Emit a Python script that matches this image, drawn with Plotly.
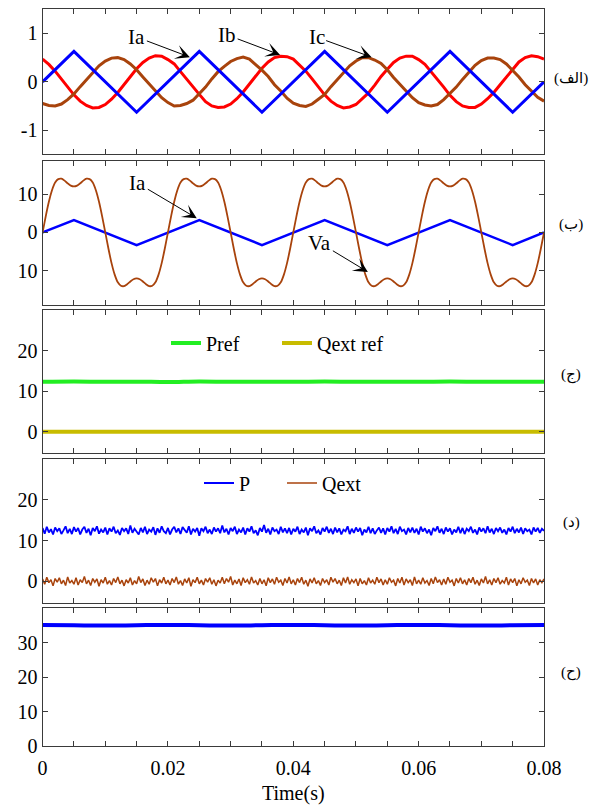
import numpy as np
import plotly.graph_objects as go

# ---------------- data ----------------
t_tri = [0, 0.005, 0.015, 0.025, 0.035, 0.045, 0.055, 0.065, 0.075, 0.08]
ia1 = [0, 0.63, -0.63, 0.63, -0.63, 0.63, -0.63, 0.63, -0.63, 0]
ia2 = [0, 3.2, -3.3, 3.2, -3.3, 3.2, -3.3, 3.2, -3.3, 0]

t_ms = np.round(np.arange(0, 81) * 0.001, 4)
ib = [0.47, 0.36, 0.22, 0.06, -0.11, -0.27, -0.40, -0.49, -0.54, -0.53, -0.47, -0.36, -0.22, -0.06, 0.11, 0.27, 0.40, 0.49, 0.54, 0.53,
      0.46, 0.37, 0.21, 0.05, -0.12, -0.26, -0.41, -0.50, -0.53, -0.52, -0.46, -0.35, -0.21, -0.05, 0.12, 0.28, 0.41, 0.50, 0.53, 0.52,
      0.47, 0.35, 0.22, 0.06, -0.10, -0.27, -0.40, -0.49, -0.54, -0.52, -0.47, -0.36, -0.23, -0.07, 0.11, 0.26, 0.40, 0.49, 0.53, 0.53,
      0.46, 0.36, 0.21, 0.05, -0.11, -0.28, -0.41, -0.50, -0.53, -0.53, -0.46, -0.35, -0.22, -0.06, 0.10, 0.27, 0.41, 0.50, 0.54, 0.52,
      0.47]
ic = [-0.45, -0.49, -0.50, -0.46, -0.37, -0.25, -0.10, 0.05, 0.20, 0.33, 0.43, 0.49, 0.50, 0.46, 0.37, 0.25, 0.10, -0.05, -0.20, -0.33,
      -0.43, -0.50, -0.49, -0.45, -0.38, -0.24, -0.11, 0.06, 0.21, 0.32, 0.42, 0.48, 0.51, 0.47, 0.36, 0.24, 0.11, -0.06, -0.19, -0.34,
      -0.44, -0.49, -0.51, -0.46, -0.36, -0.26, -0.10, 0.04, 0.20, 0.33, 0.43, 0.50, 0.50, 0.45, 0.38, 0.25, 0.09, -0.05, -0.21, -0.33,
      -0.43, -0.48, -0.50, -0.47, -0.37, -0.25, -0.11, 0.05, 0.19, 0.34, 0.44, 0.49, 0.49, 0.46, 0.37, 0.24, 0.10, -0.06, -0.20, -0.32,
      -0.40]

t_half = np.round(np.arange(0, 161) * 0.0005, 5)
va = [0, 4.2, 8.0, 11.0, 13.0, 13.9, 14.0, 13.5, 12.8, 12.2, 12.0, 12.2, 12.8, 13.5, 14.0, 13.9, 13.0, 11.0, 8.0, 4.2,
      0, -4.2, -8.0, -11.0, -13.0, -13.9, -14.0, -13.5, -12.8, -12.2, -12.0, -12.2, -12.8, -13.5, -14.0, -13.9, -13.0, -11.0, -8.0, -4.2,
      0, 4.2, 8.0, 11.0, 13.0, 13.9, 14.0, 13.5, 12.8, 12.2, 12.0, 12.2, 12.8, 13.5, 14.0, 13.9, 13.0, 11.0, 8.0, 4.2,
      0, -4.2, -8.0, -11.0, -13.0, -13.9, -14.0, -13.5, -12.8, -12.2, -12.0, -12.2, -12.8, -13.5, -14.0, -13.9, -13.0, -11.0, -8.0, -4.2,
      0, 4.2, 8.0, 11.0, 13.0, 13.9, 14.0, 13.5, 12.8, 12.2, 12.0, 12.2, 12.8, 13.5, 14.0, 13.9, 13.0, 11.0, 8.0, 4.2,
      0, -4.2, -8.0, -11.0, -13.0, -13.9, -14.0, -13.5, -12.8, -12.2, -12.0, -12.2, -12.8, -13.5, -14.0, -13.9, -13.0, -11.0, -8.0, -4.2,
      0, 4.2, 8.0, 11.0, 13.0, 13.9, 14.0, 13.5, 12.8, 12.2, 12.0, 12.2, 12.8, 13.5, 14.0, 13.9, 13.0, 11.0, 8.0, 4.2,
      0, -4.2, -8.0, -11.0, -13.0, -13.9, -14.0, -13.5, -12.8, -12.2, -12.0, -12.2, -12.8, -13.5, -14.0, -13.9, -13.0, -11.0, -8.0, -4.2,
      0]

t_ref = np.round(np.arange(0, 17) * 0.005, 4)
pref = [12.3, 12.4, 12.3, 12.35, 12.25, 12.4, 12.3, 12.35, 12.3, 12.4, 12.3, 12.35, 12.3, 12.4, 12.3, 12.35, 12.3]
qref = [0, 0, 0, 0, 0, 0, 0, 0, 0, 0, 0, 0, 0, 0, 0, 0, 0]
vdc = [35.1, 35.0, 34.9, 35.0, 35.1, 35.0, 34.9, 35.0, 35.1, 35.0, 34.9, 35.0, 35.1, 35.0, 34.9, 35.0, 35.1]

t_fine = np.round(np.arange(0, 241) / 3000.0, 6)
p_meas = [13.1, 11.7, 13.4, 12.0, 12.8, 11.5, 13.2, 12.3, 13.0, 11.6, 12.5, 13.5, 11.8, 12.9, 11.6, 13.3, 12.2, 13.1, 11.5, 12.7,
          13.4, 11.9, 12.9, 11.3, 13.1, 12.3, 13.5, 11.7, 12.7, 12.0, 13.2, 11.5, 13.0, 12.2, 13.4, 11.8, 12.5, 11.4, 13.1, 12.3,
          13.0, 11.6, 13.7, 11.9, 12.9, 12.3, 11.5, 13.1, 12.0, 13.4, 11.6, 12.7, 12.2, 13.3, 11.4, 13.0, 11.9, 13.5, 12.3, 11.8,
          13.1, 11.5, 12.7, 13.4, 12.0, 13.0, 11.6, 13.3, 12.5, 11.9, 13.5, 11.5, 12.9, 12.2, 13.1, 11.2, 13.0, 12.3, 13.4, 11.8,
          12.7, 11.6, 13.2, 12.2, 13.0, 11.8, 13.7, 12.0, 12.9, 11.5, 13.1, 12.3, 13.4, 11.6, 12.7, 12.0, 13.2, 11.5, 13.0, 12.2,
          13.5, 11.8, 12.5, 11.3, 13.1, 12.2, 13.8, 11.9, 12.9, 11.5, 13.2, 12.3, 12.7, 11.6, 13.4, 12.0, 13.0, 11.8, 13.1, 11.5,
          12.9, 12.2, 13.4, 11.6, 12.7, 12.0, 13.2, 11.3, 13.0, 12.3, 13.5, 11.8, 12.5, 11.5, 13.1, 12.2, 13.4, 11.9, 12.9, 11.6,
          13.2, 12.0, 13.0, 11.5, 12.7, 12.3, 13.5, 11.6, 12.9, 11.9, 13.2, 12.2, 13.1, 11.3, 12.7, 12.0, 13.4, 11.8, 13.0, 11.6,
          12.5, 13.2, 11.9, 13.0, 11.5, 13.1, 12.2, 13.5, 11.8, 12.9, 11.6, 13.4, 12.3, 12.7, 11.5, 13.1, 12.0, 13.2, 11.9, 12.9,
          11.5, 13.4, 12.2, 13.0, 11.8, 12.7, 11.3, 13.1, 12.3, 13.5, 11.9, 12.9, 11.6, 13.2, 12.2, 13.0, 11.5, 12.7, 12.0, 13.4,
          11.8, 13.1, 11.6, 12.9, 12.3, 13.4, 11.9, 12.7, 11.5, 13.2, 12.2, 13.0, 11.8, 13.5, 12.0, 12.9, 11.6, 13.1, 12.3, 13.2,
          11.9, 12.7, 11.5, 13.1, 12.2, 13.4, 11.8, 12.9, 12.0, 13.2, 11.6, 13.0, 12.3, 12.7, 11.5, 13.2, 12.2, 13.1, 11.9, 12.9, 12.4]
q_meas = [0.6, -0.7, 1.0, -0.3, 0.4, -1.1, 0.7, -0.2, 0.9, -0.6, 0.3, -1.0, 1.1, -0.4, 0.2, -0.7, 0.9, -0.9, 0.4, -0.3,
          1.2, -0.6, 0.3, -1.0, 0.7, -0.2, 0.6, -1.2, 0.4, -0.4, 1.0, -0.7, 0.2, -0.9, 0.7, -0.3, 1.1, -0.6, 0.3, -1.1,
          0.4, -0.4, 0.9, -0.9, 0.2, -0.6, 1.2, -0.3, 0.6, -1.0, 0.3, -0.7, 0.9, -0.2, 0.7, -1.1, 0.4, -0.4, 1.0, -0.6,
          0.3, -0.9, 0.7, -0.3, 1.1, -0.7, 0.2, -1.0, 0.6, -0.4, 0.9, -1.2, 0.4, -0.3, 1.0, -0.6, 0.3, -0.9, 0.7, -0.2,
          0.9, -0.7, 0.4, -1.1, 0.3, -0.4, 1.0, -0.6, 0.7, -0.2, 1.2, -0.9, 0.3, -0.6, 0.6, -1.0, 0.9, -0.3, 0.4, -0.7,
          1.1, -0.4, 0.2, -0.9, 0.7, -0.6, 0.4, -1.1, 0.9, -0.3, 0.6, -0.7, 1.0, -0.2, 0.3, -1.0, 0.7, -0.4, 1.1, -0.6,
          0.4, -0.9, 0.7, -0.3, 1.0, -0.7, 0.3, -1.2, 0.6, -0.4, 0.9, -0.6, 0.2, -1.0, 0.7, -0.3, 0.4, -0.9, 1.0, -0.2,
          0.7, -0.6, 0.3, -1.0, 0.9, -0.4, 1.1, -0.7, 0.4, -0.3, 0.6, -1.1, 0.7, -0.6, 0.2, -0.9, 0.9, -0.4, 0.3, -0.7,
          1.0, -0.3, 0.6, -0.9, 0.4, -0.7, 0.9, -0.2, 0.3, -1.1, 0.7, -0.4, 1.0, -0.9, 0.6, -0.3, 0.4, -1.0, 1.1, -0.6,
          0.3, -0.7, 0.9, -0.4, 0.2, -1.0, 0.7, -0.6, 1.1, -0.3, 0.4, -0.9, 0.6, -0.7, 1.0, -0.2, 0.3, -1.1, 0.7, -0.4,
          0.9, -0.6, 0.4, -0.9, 0.7, -0.3, 1.0, -0.7, 0.3, -1.0, 0.6, -0.4, 1.2, -0.6, 0.4, -0.9, 0.7, -0.3, 0.9, -0.7,
          0.2, -0.4, 1.0, -0.9, 0.6, -0.3, 0.7, -1.1, 0.4, -0.6, 0.9, -0.2, 0.3, -1.0, 0.7, -0.4, 0.6, -0.9, 0.4, -0.3, 0.6]

x_tickvals = list(np.round(np.arange(0, 17) * 0.005, 4))
x_ticklabels = ["0" if v == 0 else (f"{v:.2f}" if abs(v / 0.02 - round(v / 0.02)) < 1e-6 else "") for v in x_tickvals]

panel_labels = ["(الف)", "(ب)", "(ج)", "(د)", "(ح)"]

# ---------------- styles ----------------
BLUE = "#0000ff"
RED = "#ff0000"
BROWN = "#a8430c"
GREEN = "#22ee22"
OLIVE = "#c8bc00"
FRAME = "#3a3a3a"
FONT = "Liberation Serif, Times New Roman, serif"

fig = go.Figure()

# Panel 1
fig.add_trace(go.Scatter(x=t_ms, y=ib, mode="lines", line=dict(color=RED, width=3), xaxis="x", yaxis="y", showlegend=False))
fig.add_trace(go.Scatter(x=t_ms, y=ic, mode="lines", line=dict(color=BROWN, width=3), xaxis="x", yaxis="y", showlegend=False))
fig.add_trace(go.Scatter(x=t_tri, y=ia1, mode="lines", line=dict(color=BLUE, width=3), xaxis="x", yaxis="y", showlegend=False))
# Panel 2
fig.add_trace(go.Scatter(x=t_tri, y=ia2, mode="lines", line=dict(color=BLUE, width=2.5), xaxis="x2", yaxis="y2", showlegend=False))
fig.add_trace(go.Scatter(x=t_half, y=va, mode="lines", line=dict(color=BROWN, width=1.8, shape="spline", smoothing=0.6),
                         xaxis="x2", yaxis="y2", showlegend=False))
# Panel 3
fig.add_trace(go.Scatter(x=t_ref, y=pref, mode="lines", name="Pref", line=dict(color=GREEN, width=4, shape="spline"),
                         xaxis="x3", yaxis="y3", legend="legend"))
fig.add_trace(go.Scatter(x=t_ref, y=qref, mode="lines", name="Qext ref", line=dict(color=OLIVE, width=4),
                         xaxis="x3", yaxis="y3", legend="legend"))
# Panel 4
fig.add_trace(go.Scatter(x=t_fine, y=p_meas, mode="lines", name="P", line=dict(color=BLUE, width=1.8),
                         xaxis="x4", yaxis="y4", legend="legend2"))
fig.add_trace(go.Scatter(x=t_fine, y=q_meas, mode="lines", name="Qext", line=dict(color=BROWN, width=1.5),
                         xaxis="x4", yaxis="y4", legend="legend2"))
# Panel 5
fig.add_trace(go.Scatter(x=t_ref, y=vdc, mode="lines", line=dict(color=BLUE, width=4, shape="spline"),
                         xaxis="x5", yaxis="y5", showlegend=False))

XDOM = [42.6 / 596, 544 / 596]
ydoms = [(9.3, 154.3), (160.7, 305.3), (310, 453.3), (459, 603), (608, 746)]
yranges = [[-1.5, 1.5], [-19, 18.7], [-5.3, 30], [-5.3, 30], [0, 40]]
ytickvals = [[-1, 0, 1], [-10, 0, 10], [0, 10, 20, 30], [0, 10, 20, 30], [0, 10, 20, 30]]
yticktext = [["-1", "0", "1"], ["10", "0", "10"], ["0", "10", "20", ""], ["0", "10", "20", ""], ["0", "10", "20", "30"]]

layout = dict(
    width=596, height=805,
    margin=dict(l=0, r=0, t=0, b=0),
    paper_bgcolor="white", plot_bgcolor="white",
    font=dict(family=FONT, size=20, color="black"),
)
axis_common = dict(showline=True, linecolor=FRAME, linewidth=1.3, mirror="ticks", ticks="inside",
                   ticklen=5, tickcolor=FRAME, tickwidth=1, showgrid=False, zeroline=False, automargin=False)
for i in range(5):
    sfx = "" if i == 0 else str(i + 1)
    top, bot = ydoms[i]
    layout["xaxis" + sfx] = dict(axis_common, domain=XDOM, range=[0, 0.08], anchor="y" + sfx,
                                 tickvals=x_tickvals, ticktext=x_ticklabels, showticklabels=(i == 4),
                                 tickfont=dict(size=20))
    layout["yaxis" + sfx] = dict(axis_common, domain=[1 - bot / 805, 1 - top / 805], range=yranges[i],
                                 anchor="x" + sfx, tickvals=ytickvals[i], ticktext=yticktext[i],
                                 tickfont=dict(size=20))
layout["xaxis5"]["title"] = dict(text="Time(s)", font=dict(size=20), standoff=8)
layout["xaxis5"]["ticklabelstandoff"] = 4

layout["legend"] = dict(orientation="h", x=166 / 596, y=1 - 343 / 805, xanchor="left", yanchor="middle",
                        bgcolor="rgba(0,0,0,0)", font=dict(size=20), itemwidth=30, tracegroupgap=0,
                        entrywidth=66, entrywidthmode="pixels")
layout["legend2"] = dict(orientation="h", x=199 / 596, y=1 - 483 / 805, xanchor="left", yanchor="middle",
                         bgcolor="rgba(0,0,0,0)", font=dict(size=20), itemwidth=30, tracegroupgap=0,
                         entrywidth=38, entrywidthmode="pixels")

fig.update_layout(**layout)

# arrow annotations
arrows = [
    ("Ia", 0.0235, 0.51, -53, -20, "x", "y"),
    ("Ib", 0.0379, 0.556, -53, -20, "x", "y"),
    ("Ic", 0.0525, 0.51, -55, -20, "x", "y"),
    ("Ia", 0.0246, 3.7, -59, -35, "x2", "y2"),
    ("Va", 0.0519, -10.3, -48, -29, "x2", "y2"),
]
for txt, x, y, ax, ay, xr, yr in arrows:
    fig.add_annotation(x=x, y=y, xref=xr, yref=yr, ax=ax, ay=ay, text=txt, showarrow=True,
                       arrowhead=3, arrowsize=2.4, arrowwidth=1, arrowcolor="black",
                       font=dict(family=FONT, size=21, color="black"))

label_y = [78, 225, 375, 522, 672]
for lbl, yy in zip(panel_labels, label_y):
    fig.add_annotation(x=571 / 596, y=1 - yy / 805, xref="paper", yref="paper", text=lbl, showarrow=False,
                       xanchor="center", yanchor="middle",
                       font=dict(family="Liberation Serif, DejaVu Sans", size=15, color="black"))

fig.write_html("out.html")
